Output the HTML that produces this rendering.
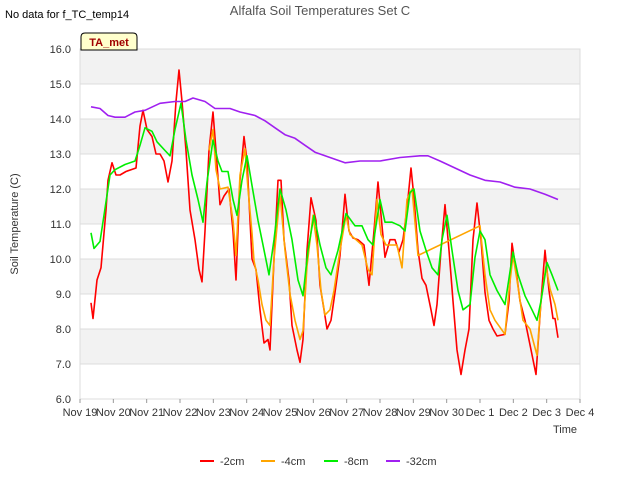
<!DOCTYPE html>
<html><head><meta charset="utf-8"><style>
body{margin:0;background:#fff;font-family:"Liberation Sans",sans-serif}
svg text{font-family:"Liberation Sans",sans-serif}
</style></head><body>
<svg id="c" width="640" height="480" xmlns="http://www.w3.org/2000/svg">
<rect width="640" height="480" fill="#fff"/>
<text x="5" y="18" font-size="11" fill="#000">No data for f_TC_temp14</text>
<text x="320" y="15" font-size="13" fill="#555" text-anchor="middle">Alfalfa Soil Temperatures Set C</text>
<g id="grid"></g>
<g id="axes"></g>
<g id="series"></g>
<g>
<path d="M81,50 L81,37 Q81,33 85,33 L133,33 Q137,33 137,37 L137,50 Z" fill="#ffffcc" stroke="#000" stroke-width="1"/>
<text x="109" y="46" font-size="11" font-weight="bold" fill="#a00000" text-anchor="middle">TA_met</text>
</g>
<text x="18" y="224" font-size="11" fill="#333" text-anchor="middle" transform="rotate(-90 18 224)">Soil Temperature (C)</text>
<text x="565" y="433" font-size="11" fill="#333" text-anchor="middle">Time</text>
<g id="legend"></g>
</svg>
<script>
const xTickLabels=["Nov 19","Nov 20","Nov 21","Nov 22","Nov 23","Nov 24","Nov 25","Nov 26","Nov 27","Nov 28","Nov 29","Nov 30","Dec 1","Dec 2","Dec 3","Dec 4"];
const yTicks=[6,7,8,9,10,11,12,13,14,15,16];
const seriesNames=["-2cm","-4cm","-8cm","-32cm"];
const seriesColors=["#ff0000","#ffa500","#00ee00","#a020f0"];
const d2=[.33,.39,.51,.63,.78,.84,.96,1.08,1.2,1.38,1.53,1.68,1.8,1.89,2.01,2.16,2.28,2.4,2.52,2.64,2.76,2.88,2.97,3.06,3.18,3.3,3.45,3.57,3.66,3.75,3.87,3.99,4.08,4.2,4.32,4.47,4.59,4.68,4.8,4.92,5.01,5.16,5.28,5.4,5.52,5.64,5.7,5.82,5.94,6.03,6.12,6.27,6.36,6.51,6.6,6.69,6.81,6.93,7.08,7.2,7.32,7.41,7.53,7.68,7.8,7.95,8.07,8.19,8.34,8.52,8.67,8.82,8.94,9.06,9.15,9.3,9.45,9.57,9.69,9.81,9.93,10.02,10.14,10.26,10.38,10.53,10.62,10.71,10.83,10.95,11.07,11.19,11.31,11.43,11.55,11.67,11.79,11.91,12.03,12.15,12.27,12.39,12.51,12.75,12.87,12.96,13.08,13.2,13.35,13.5,13.68,13.83,13.95,14.07,14.19,14.25,14.34];
const v2=[8.75,8.3,9.4,9.75,11.4,12.25,12.75,12.4,12.4,12.5,12.55,12.6,13.8,14.25,13.7,13.5,13.0,13.0,12.8,12.2,12.8,14.5,15.4,14.5,13.1,11.4,10.55,9.7,9.35,10.8,13.1,14.2,13.1,11.55,11.8,12.0,10.8,9.4,12.25,13.5,12.8,10.0,9.7,8.55,7.6,7.7,7.4,10.0,12.25,12.25,10.55,9.4,8.1,7.4,7.05,7.7,10.25,11.75,11.1,9.25,8.55,8.0,8.25,9.25,10.1,11.85,10.8,10.6,10.55,10.4,9.25,10.8,12.2,10.95,10.05,10.55,10.55,10.2,10.55,11.45,12.6,11.75,10.25,9.45,9.25,8.55,8.1,8.7,10.25,11.55,10.25,8.8,7.4,6.7,7.4,8.0,10.55,11.6,10.55,9.05,8.25,8.0,7.8,7.85,8.8,10.45,9.7,8.8,8.25,7.55,6.7,8.8,10.25,9.1,8.3,8.3,7.75];
const d4=[3.87,3.99,4.08,4.2,4.44,4.59,4.68,4.8,4.95,5.04,5.16,5.22,5.34,5.46,5.58,5.7,5.82,6.0,6.15,6.3,6.45,6.6,6.69,6.81,6.99,7.11,7.23,7.35,7.5,7.62,7.8,7.98,8.1,8.28,8.46,8.64,8.76,8.91,9.03,9.18,9.36,9.51,9.66,9.81,9.96,10.14,12.0,12.15,12.3,12.45,12.75,12.87,12.99,13.11,13.29,13.5,13.71,13.83,13.98,14.1,14.25,14.34];
const v4=[13.1,13.7,12.55,12.0,12.05,11.1,10.1,12.4,13.15,12.0,10.75,9.95,9.4,8.7,8.25,8.1,10.0,11.85,10.25,9.0,8.25,7.7,7.95,9.8,11.25,10.4,9.1,8.4,8.55,9.1,10.25,11.25,10.7,10.55,10.4,9.7,9.55,11.7,10.7,10.4,10.4,10.4,9.75,11.7,12.0,10.1,10.95,9.55,8.55,8.25,7.85,9.1,10.1,9.4,8.25,8.0,7.25,8.8,9.8,9.15,8.7,8.25];
const d8=[.33,.42,.6,.72,.9,1.05,1.35,1.65,1.8,1.95,2.16,2.31,2.55,2.7,2.85,3.03,3.18,3.36,3.54,3.69,3.81,3.99,4.14,4.26,4.44,4.59,4.71,4.86,5.01,5.16,5.34,5.49,5.67,5.82,6.0,6.18,6.36,6.54,6.69,6.84,7.02,7.2,7.38,7.53,7.74,7.98,8.25,8.46,8.64,8.79,9.0,9.15,9.36,9.6,9.75,9.9,10.02,10.2,10.38,10.56,10.74,10.86,11.01,11.16,11.34,11.49,11.7,11.85,12.0,12.15,12.3,12.51,12.75,12.99,13.14,13.35,13.56,13.71,13.83,14.01,14.16,14.34];
const v8=[10.75,10.3,10.5,11.25,12.4,12.55,12.7,12.8,13.25,13.75,13.65,13.35,13.1,12.95,13.7,14.45,13.4,12.4,11.7,11.05,12.2,13.4,12.8,12.5,12.5,11.7,11.25,12.25,12.95,12.1,11.1,10.4,9.55,10.55,12.0,11.4,10.55,9.4,8.95,10.25,11.25,10.4,9.75,9.55,10.25,11.3,10.95,10.95,10.55,10.4,11.7,11.05,11.05,10.95,10.8,11.9,12.0,10.8,10.25,9.75,9.55,10.55,11.25,10.25,9.1,8.55,8.7,10.05,10.8,10.55,9.55,9.1,8.7,10.2,9.55,8.95,8.55,8.25,8.8,9.9,9.55,9.1];
const d32=[.33,.6,.84,1.05,1.35,1.65,1.95,2.4,2.85,3.15,3.39,3.75,4.05,4.5,4.8,5.25,5.55,5.85,6.15,6.45,6.75,7.05,7.5,7.95,8.4,9.0,9.6,10.2,10.44,10.8,11.25,11.7,12.15,12.6,13.05,13.5,13.95,14.34];
const v32=[14.35,14.3,14.1,14.05,14.05,14.2,14.25,14.45,14.5,14.5,14.6,14.5,14.3,14.3,14.2,14.1,13.95,13.75,13.55,13.45,13.25,13.05,12.9,12.75,12.8,12.8,12.9,12.95,12.95,12.8,12.6,12.4,12.25,12.2,12.05,12.0,11.85,11.7];

const NS="http://www.w3.org/2000/svg";
const X0=80,X1=580,Y0=399,Y1=49,ymin=6,ymax=16,days=15;
const xs=d=>X0+d*(X1-X0)/days;
const ys=v=>Y0-(v-ymin)*(Y0-Y1)/(ymax-ymin);
function mk(t,a,p){const e=document.createElementNS(NS,t);for(const k in a)e.setAttribute(k,a[k]);p.appendChild(e);return e;}
const grid=document.getElementById('grid'),axes=document.getElementById('axes'),ser=document.getElementById('series'),leg=document.getElementById('legend');
for(let i=0;i<yTicks.length-1;i++){
  if((yTicks.length-2-i)%2===0){const r=mk('rect',{x:X0,y:ys(yTicks[i+1]),width:X1-X0,height:ys(yTicks[i])-ys(yTicks[i+1]),fill:'#f2f2f2'},grid);
  
  }
}
yTicks.forEach(v=>{
  const l=mk('line',{x1:X0,x2:X1,y1:ys(v),y2:ys(v),stroke:'#dcdcdc','stroke-width':1},grid);
  
  
  const t=mk('text',{x:X0-9,y:ys(v)+4,'font-size':11,fill:'#333','text-anchor':'end'},axes);
  t.textContent=v.toFixed(1);
  
  
});
mk('rect',{x:X0,y:Y1,width:X1-X0,height:Y0-Y1,fill:'none',stroke:'#dcdcdc'},grid);
xTickLabels.forEach((s,i)=>{
  const t=mk('text',{x:xs(i),y:Y0+17,'font-size':11,fill:'#333','text-anchor':'middle'},axes);
  t.textContent=s;
  
  
  mk('line',{x1:xs(i),x2:xs(i),y1:Y0,y2:Y0+4,stroke:'#999'},axes);
});
const all=[[d2,v2],[d4,v4],[d8,v8],[d32,v32]];
all.forEach(([d,v],k)=>{
  const p=mk('polyline',{points:d.map((x,i)=>xs(x).toFixed(1)+','+ys(v[i]).toFixed(1)).join(' '),fill:'none',stroke:seriesColors[k],'stroke-width':1.6,'stroke-linejoin':'round'},ser);
  
  
});
const lx=[200,261,324,386];
seriesNames.forEach((n,k)=>{
  mk('line',{x1:lx[k],x2:lx[k]+14,y1:461,y2:461,stroke:seriesColors[k],'stroke-width':2},leg);
  const t=mk('text',{x:lx[k]+20,y:465,'font-size':11,fill:'#333'},leg);
  t.textContent=n;
  
  
});
</script>
</body></html>
